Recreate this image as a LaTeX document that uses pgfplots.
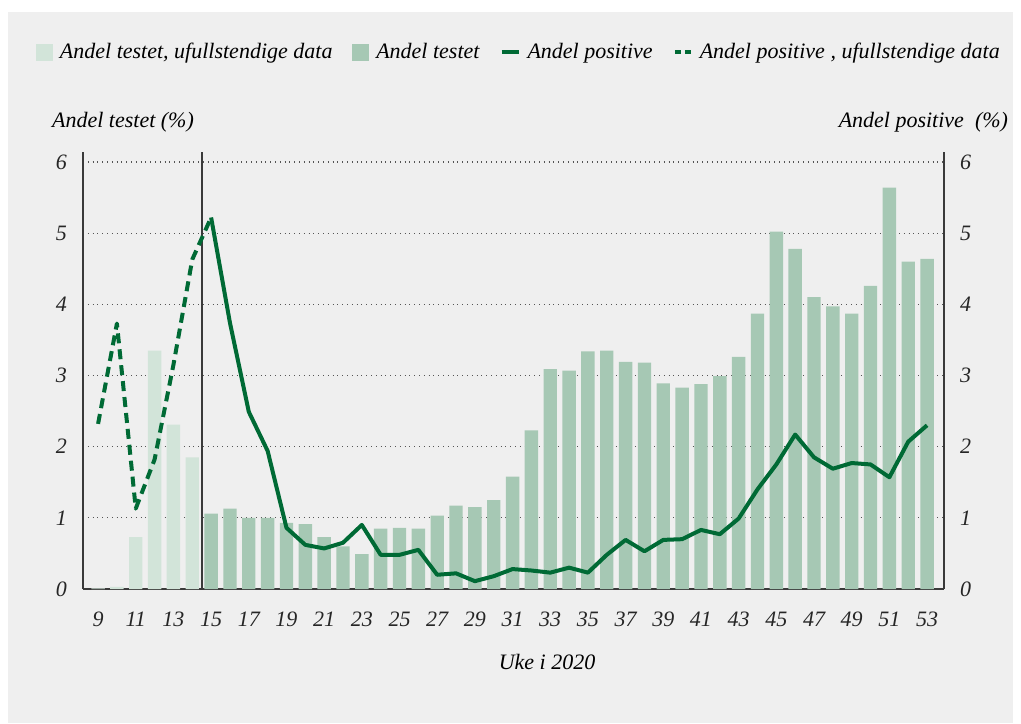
\documentclass[border=0pt]{standalone}
\usepackage{fontspec}
\setmainfont{Liberation Serif}
\usepackage{pgfplots}
\pgfplotsset{compat=1.18}
\usepackage{pgfplotstable}
\definecolor{bg}{HTML}{EFEFEF}
\definecolor{barfull}{HTML}{A6C8B4}
\definecolor{barinc}{HTML}{D2E4D9}
\definecolor{linec}{HTML}{006A35}
\definecolor{axisc}{HTML}{3A3A3A}
\definecolor{gridc}{HTML}{555555}

\pgfplotstableread{
week testet
9 0.01
10 0.03
11 0.73
12 3.35
13 2.31
14 1.85
}\testinc
\pgfplotstableread{
week testet
15 1.06
16 1.13
17 1.00
18 1.00
19 0.93
20 0.91
21 0.73
22 0.60
23 0.49
24 0.85
25 0.86
26 0.85
27 1.03
28 1.17
29 1.15
30 1.25
31 1.58
32 2.23
33 3.09
34 3.07
35 3.34
36 3.35
37 3.19
38 3.18
39 2.89
40 2.83
41 2.88
42 2.99
43 3.26
44 3.87
45 5.02
46 4.78
47 4.10
48 3.97
49 3.87
50 4.26
51 5.64
52 4.60
53 4.64
}\testfull
\pgfplotstableread{
week pos
9 2.32
10 3.73
11 1.13
12 1.82
13 3.15
14 4.63
15 5.22
}\posinc
\pgfplotstableread{
week pos
15 5.22
16 3.74
17 2.49
18 1.94
19 0.86
20 0.62
21 0.57
22 0.65
23 0.90
24 0.48
25 0.48
26 0.55
27 0.20
28 0.22
29 0.11
30 0.18
31 0.28
32 0.26
33 0.23
34 0.30
35 0.23
36 0.48
37 0.69
38 0.53
39 0.69
40 0.70
41 0.83
42 0.77
43 0.99
44 1.40
45 1.75
46 2.17
47 1.85
48 1.69
49 1.77
50 1.75
51 1.57
52 2.07
53 2.30
}\posfull

\begin{document}
\begin{tikzpicture}[font=\fontsize{11}{13}\selectfont\itshape]
\path[use as bounding box] (-41.5pt,-67pt) rectangle (469pt,294.5pt);
\fill[bg] (-37.5pt,-67pt) rectangle (465pt,288.5pt);
\begin{axis}[
  at={(0,0)}, anchor=south west,
  scale only axis, width=430.5pt, height=218.5pt,
  xmin=8.2, xmax=53.9, ymin=0, ymax=6.14,
  clip=false,
  axis x line*=bottom, axis y line*=left,
  axis line style={-, draw=axisc, line width=0.9pt},
  xtick={9,11,...,53}, ytick={0,1,...,6},
  major tick length=0pt,
  ymajorgrids, grid style={dotted, draw=gridc, line width=0.6pt},
  /pgf/number format/assume math mode=true,
  ticklabel style={font=\fontsize{11}{13}\selectfont\itshape, text=black!85},
  xticklabel style={yshift=-8pt},
  yticklabel style={xshift=-4.5pt},
  xlabel={Uke i 2020},
  xlabel style={at={(axis description cs:0.539,0)}, anchor=center, yshift=-36.5pt, font=\fontsize{11}{13}\selectfont\itshape},
]
\addplot[ybar, bar width=0.71, bar shift=0pt, fill=barinc, draw=none] table[x=week, y=testet] {\testinc};
\addplot[ybar, bar width=0.71, bar shift=0pt, fill=barfull, draw=none] table[x=week, y=testet] {\testfull};
\draw[axisc, line width=0.9pt] (axis cs:14.5,0) -- (axis cs:14.5,6.14);
\node[anchor=west] at (rel axis cs:-0.044,1.068) {Andel testet (\%)};
\node[anchor=east] at (rel axis cs:1.0825,1.068) {Andel positive\ \ (\%)};
\end{axis}
\begin{axis}[
  at={(0,0)}, anchor=south west,
  scale only axis, width=430.5pt, height=218.5pt,
  xmin=8.2, xmax=53.9, ymin=0, ymax=6.14,
  clip=false,
  axis y line*=right, axis x line=none,
  axis line style={-, draw=axisc, line width=0.9pt},
  ytick={0,1,...,6},
  major tick length=0pt,
  /pgf/number format/assume math mode=true,
  ticklabel style={font=\fontsize{11}{13}\selectfont\itshape, text=black!85},
  yticklabel style={xshift=4.5pt},
  legend style={draw=none, fill=none, at={(0.5075,1.228)}, anchor=center,
    legend columns=4, font=\fontsize{11}{13}\selectfont\itshape,
    /tikz/every even column/.append style={column sep=8pt},
    /tikz/every odd column/.append style={column sep=1.5pt}},
  legend cell align=left,
]
\addlegendimage{legend image code/.code={\fill[barinc] (0pt,-4pt) rectangle (8pt,4pt);}}
\addlegendentry{Andel testet, ufullstendige data}
\addlegendimage{legend image code/.code={\fill[barfull] (0pt,-4pt) rectangle (8pt,4pt);}}
\addlegendentry{Andel testet}
\addplot[linec, line width=2pt, line join=round,
  legend image code/.code={\draw[linec, line width=2pt] (0pt,0pt) -- (8.5pt,0pt);}]
  table[x=week, y=pos] {\posfull};
\addlegendentry{Andel positive}
\addplot[linec, line width=2pt, line join=round, dash pattern=on 5pt off 3pt,
  legend image code/.code={\draw[linec, line width=2pt, dash pattern=on 3pt off 2pt] (0pt,0pt) -- (8pt,0pt);}]
  table[x=week, y=pos] {\posinc};
\addlegendentry{Andel positive , ufullstendige data}
\end{axis}
\end{tikzpicture}
\end{document}
